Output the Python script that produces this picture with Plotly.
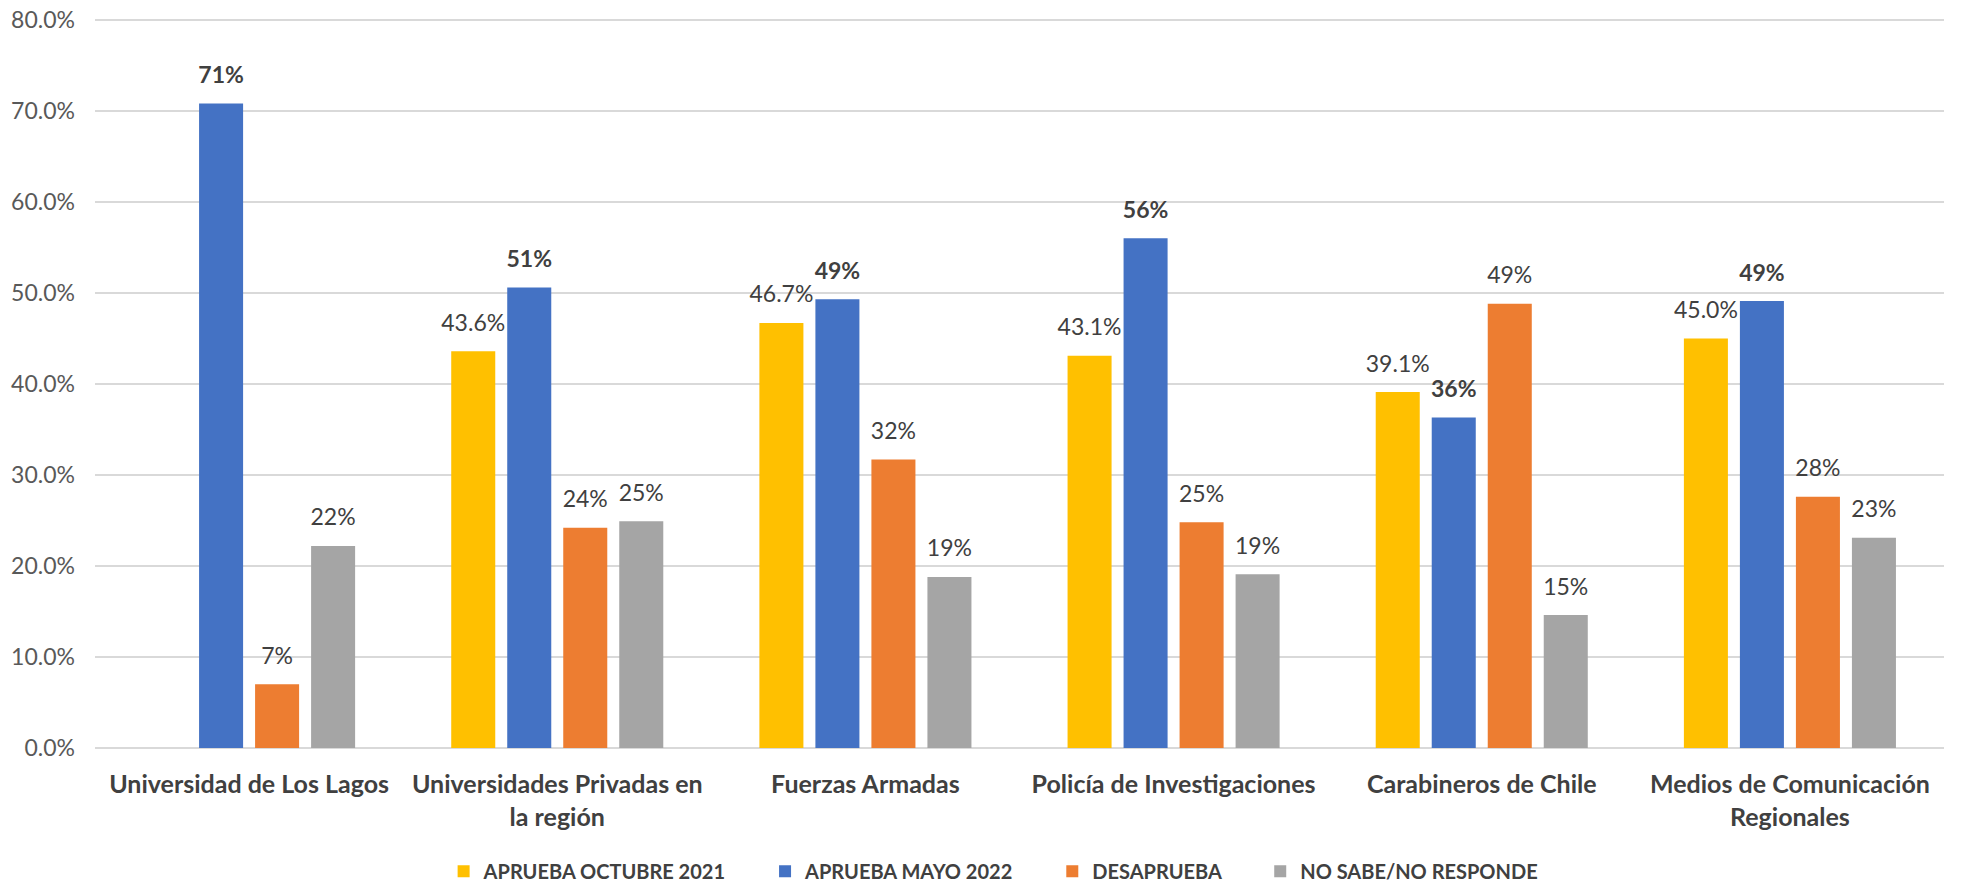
import plotly.graph_objects as go

categories = [
    "Universidad de Los Lagos",
    "Universidades Privadas en<br>la región",
    "Fuerzas Armadas",
    "Policía de Investigaciones",
    "Carabineros de Chile",
    "Medios de Comunicación<br>Regionales",
]
aprueba_oct_2021 = [None, 43.6, 46.7, 43.1, 39.1, 45.0]
aprueba_may_2022 = [70.8, 50.6, 49.3, 56.0, 36.3, 49.1]
desaprueba = [7.0, 24.2, 31.7, 24.8, 48.8, 27.6]
no_sabe = [22.2, 24.9, 18.8, 19.1, 14.6, 23.1]

series_names = ["APRUEBA OCTUBRE 2021", "APRUEBA MAYO 2022", "DESAPRUEBA", "NO SABE/NO RESPONDE"]
colors = ["#FFC000", "#4472C4", "#ED7D31", "#A5A5A5"]
templates = ["%{y:.1f}%", "<b>%{y:.0f}%</b>", "%{y:.0f}%", "%{y:.0f}%"]
values = [aprueba_oct_2021, aprueba_may_2022, desaprueba, no_sabe]

FONT = "Lato, 'Open Sans', sans-serif"
PAD = "\u00a0" * 7

fig = go.Figure()
for i, (name, vals, col) in enumerate(zip(series_names, values, colors)):
    fig.add_trace(go.Bar(
        x=categories, y=vals, name=name + (PAD if i < len(series_names) - 1 else ""),
        marker=dict(color=col, line=dict(width=0)),
        offsetgroup=str(i),
        hoverinfo="skip",
    ))
# data labels, grouped to sit above their bars
for i, (name, vals, tpl) in enumerate(zip(series_names, values, templates)):
    fig.add_trace(go.Scatter(
        x=categories, y=vals, mode="markers+text",
        marker=dict(size=22, opacity=0),
        texttemplate=tpl, textposition="top center",
        textfont=dict(family=FONT, size=23, color="#404040"),
        offsetgroup=str(i), showlegend=False, cliponaxis=False,
        hoverinfo="skip",
    ))

fig.update_layout(
    width=1961, height=887,
    paper_bgcolor="white", plot_bgcolor="white",
    margin=dict(l=95, r=17, t=18, b=139, autoexpand=False),
    barmode="group", scattermode="group",
    bargap=0.273, bargroupgap=0.214, scattergap=0.273,
    font=dict(family=FONT, color="#595959"),
    showlegend=True,
    legend=dict(
        orientation="h", x=0.486, xanchor="center", y=-0.169, yanchor="middle",
        font=dict(family=FONT, size=20, color="#404040", weight="bold"),
        itemwidth=30, traceorder="normal",
    ),
    xaxis=dict(
        showgrid=False, showline=False, ticks="", automargin=False,
        tickfont=dict(family=FONT, size=25, color="#404040", weight="bold"),
        ticklabelstandoff=19,
    ),
    yaxis=dict(
        range=[0, 80.2], dtick=10, tick0=0, tickformat=".1f", ticksuffix="%",
        showgrid=True, gridcolor="#D9D9D9", gridwidth=1.5,
        zeroline=True, zerolinecolor="#D9D9D9", zerolinewidth=2,
        showline=False, ticks="", automargin=False,
        ticklabeloverflow="allow",
        tickfont=dict(family=FONT, size=23, color="#595959"),
        ticklabelstandoff=19,
    ),
)

fig.write_html(
    "out.html",
    config={"displayModeBar": False},
    post_script="document.body.style.margin='0';document.body.style.overflow='hidden';",
)
